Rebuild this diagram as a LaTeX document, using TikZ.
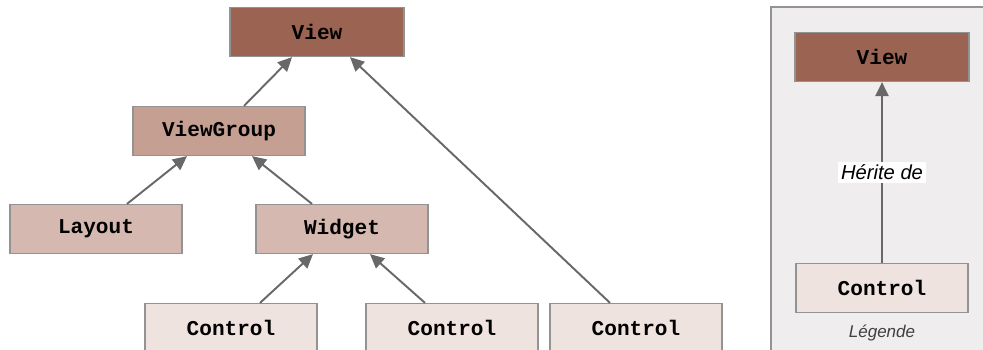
\documentclass[tikz,border=0pt]{standalone}
\usepackage{fontspec}
\setmainfont{Liberation Sans}
\setmonofont{Liberation Mono}
\usetikzlibrary{arrows.meta, calc}

\definecolor{viewbrown}{HTML}{9B6452}
\definecolor{groupbrown}{HTML}{C69F93}
\definecolor{widgetbrown}{HTML}{D5B8AF}
\definecolor{ctrlpink}{HTML}{EFE3E0}
\definecolor{legendbg}{HTML}{EFEDEE}
\definecolor{boxline}{HTML}{939393}
\definecolor{arrowgray}{HTML}{686868}

\begin{document}
\begin{tikzpicture}[
  x=0.02cm, y=-0.02cm,
  >={Triangle[length=8pt, width=7.5pt]},
  cls/.style   = {draw=boxline, line width=0.7pt, inner sep=0pt,
                  minimum width=3.44cm, minimum height=0.98cm,
                  font=\fontsize{12}{14}\selectfont\ttfamily\bfseries},
  base/.style  = {cls, fill=viewbrown, minimum width=3.48cm},
  group/.style = {cls, fill=groupbrown},
  leaf/.style  = {cls, fill=widgetbrown},
  ctrl/.style  = {cls, fill=ctrlpink},
  inh/.style   = {->, draw=arrowgray, fill=arrowgray, line width=1.1pt},
]
  \useasboundingbox (0,0) rectangle (983,349);
  \clip (0,0) rectangle (983,349);

  % Legend panel
  \draw[draw=boxline, line width=1pt, fill=legendbg] (771,7) rectangle (1000,370);

  % Hierarchy
  \node[base]  (view)   at (317,32)  {View};
  \node[group] (vgroup) at (219,131) {ViewGroup};
  \node[leaf]  (layout) at (96,229)  {Layout};
  \node[leaf]  (widget) at (342,229) {Widget};
  \node[ctrl]  (ctrlA)  at (231,328) {Control};
  \node[ctrl]  (ctrlB)  at (452,328) {Control};
  \node[ctrl]  (ctrlC)  at (636,328) {Control};

  % Inheritance arrows
  \draw[inh] ($(vgroup.north)+(25,0)$) -- ($(view.south)+(-25,0)$);
  \draw[inh] ($(ctrlC.north)+(-26,0)$) -- ($(view.south)+(33,0)$);
  \draw[inh] ($(layout.north)+(31,0)$) -- ($(vgroup.south)+(-32,0)$);
  \draw[inh] ($(widget.north)+(-30,0)$) -- ($(vgroup.south)+(33,0)$);
  \draw[inh] ($(ctrlA.north)+(29,0)$) -- ($(widget.south)+(-29,0)$);
  \draw[inh] ($(ctrlB.north)+(-27,0)$) -- ($(widget.south)+(28,0)$);

  % Legend
  \node[base] (legview) at (882,57)  {View};
  \node[ctrl] (legctrl) at (882,288) {Control};
  \draw[inh] (legctrl) -- node[fill=white, inner sep=1.5pt,
    font=\fontsize{11.5}{13}\selectfont\itshape] {Hérite de} (legview);
  \node[font=\fontsize{9.7}{11}\selectfont\itshape, text=black!75] (legtitle)
    at (882,333) {Légende};
\end{tikzpicture}
\end{document}
